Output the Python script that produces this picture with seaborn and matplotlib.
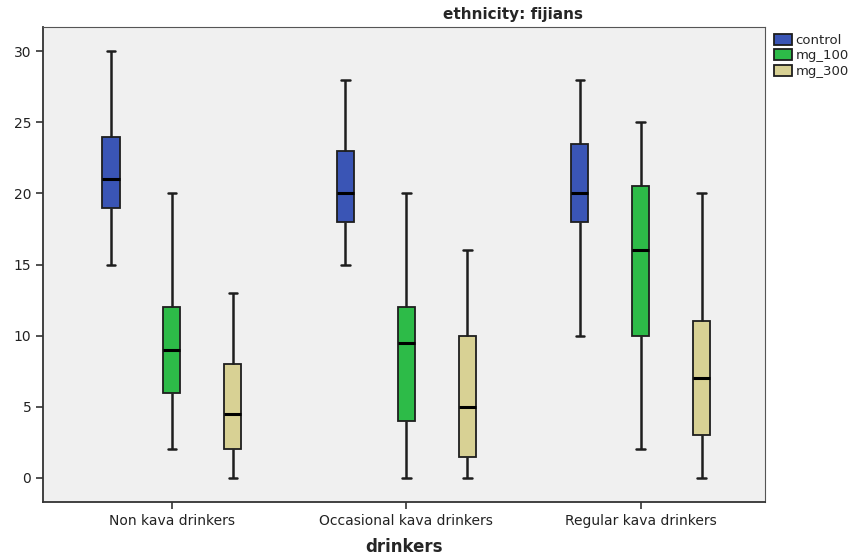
import matplotlib
matplotlib.use("Agg")
import matplotlib.pyplot as plt
import pandas as pd
import seaborn as sns

# --- data: five-number summaries (min, q1, median, q3, max) ---
groups = ["Non kava drinkers", "Occasional kava drinkers", "Regular kava drinkers"]
doses = ["control", "mg_100", "mg_300"]

non_kava = {
    "control": [15, 19, 21, 24, 30],
    "mg_100": [2, 6, 9, 12, 20],
    "mg_300": [0, 2, 4.5, 8, 13],
}
occasional = {
    "control": [15, 18, 20, 23, 28],
    "mg_100": [0, 4, 9.5, 12, 20],
    "mg_300": [0, 1.5, 5, 10, 16],
}
regular = {
    "control": [10, 18, 20, 23.5, 28],
    "mg_100": [2, 10, 16, 20.5, 25],
    "mg_300": [0, 3, 7, 11, 20],
}

colors = ["#3a55b5", "#2dbb48", "#d8d194"]

# long-form table for seaborn
rows = []
for grp, summary in zip(groups, [non_kava, occasional, regular]):
    for dose in doses:
        for v in summary[dose]:
            rows.append({"drinkers": grp, "dose": dose, "value": v})
df = pd.DataFrame(rows)

sns.set_theme(style="ticks")
plt.rcParams["font.family"] = ["DejaVu Sans"]

fig = plt.figure(figsize=(8.55, 5.56), dpi=100)
ax = fig.add_axes([0.0503, 0.0971, 0.8444, 0.8543])
ax.set_facecolor("#f0f0f0")

sns.boxplot(
    data=df, x="drinkers", y="value", hue="dose",
    order=groups, hue_order=doses, palette=colors, saturation=1,
    whis=(0, 100), width=0.78, gap=0.72, fliersize=0,
    linecolor="#1e1e1e", linewidth=1.3,
    medianprops={"linewidth": 2.2, "color": "#000000"},
    whiskerprops={"linewidth": 1.8},
    capprops={"linewidth": 1.8},
    ax=ax,
)

ax.set_xlim(-0.55, 2.53)
ax.set_ylim(-1.7, 31.7)
ax.set_yticks([0, 5, 10, 15, 20, 25, 30])
ax.tick_params(axis="both", labelsize=10, length=5, width=1.2, color="#333333", colors="#222222")
ax.set_ylabel("")
ax.set_xlabel("drinkers", fontsize=12, fontweight="bold", labelpad=7)

for side in ["left", "bottom"]:
    ax.spines[side].set_color("#333333")
    ax.spines[side].set_linewidth(1.3)
for side in ["top", "right"]:
    ax.spines[side].set_visible(True)
    ax.spines[side].set_color("#555555")
    ax.spines[side].set_linewidth(0.8)

handles, labels = ax.get_legend_handles_labels()
ax.legend(
    handles, labels, loc="upper left", bbox_to_anchor=(1.003, 1.0),
    frameon=False, fontsize=9.5, handlelength=1.4, handleheight=0.9,
    handletextpad=0.25, labelspacing=0.2, borderaxespad=0.1,
)

fig.text(513 / 855, 1 - 14 / 556, "ethnicity: fijians", ha="center", va="center",
         fontsize=11, fontweight="bold")

fig.savefig("out.png", dpi=100)
